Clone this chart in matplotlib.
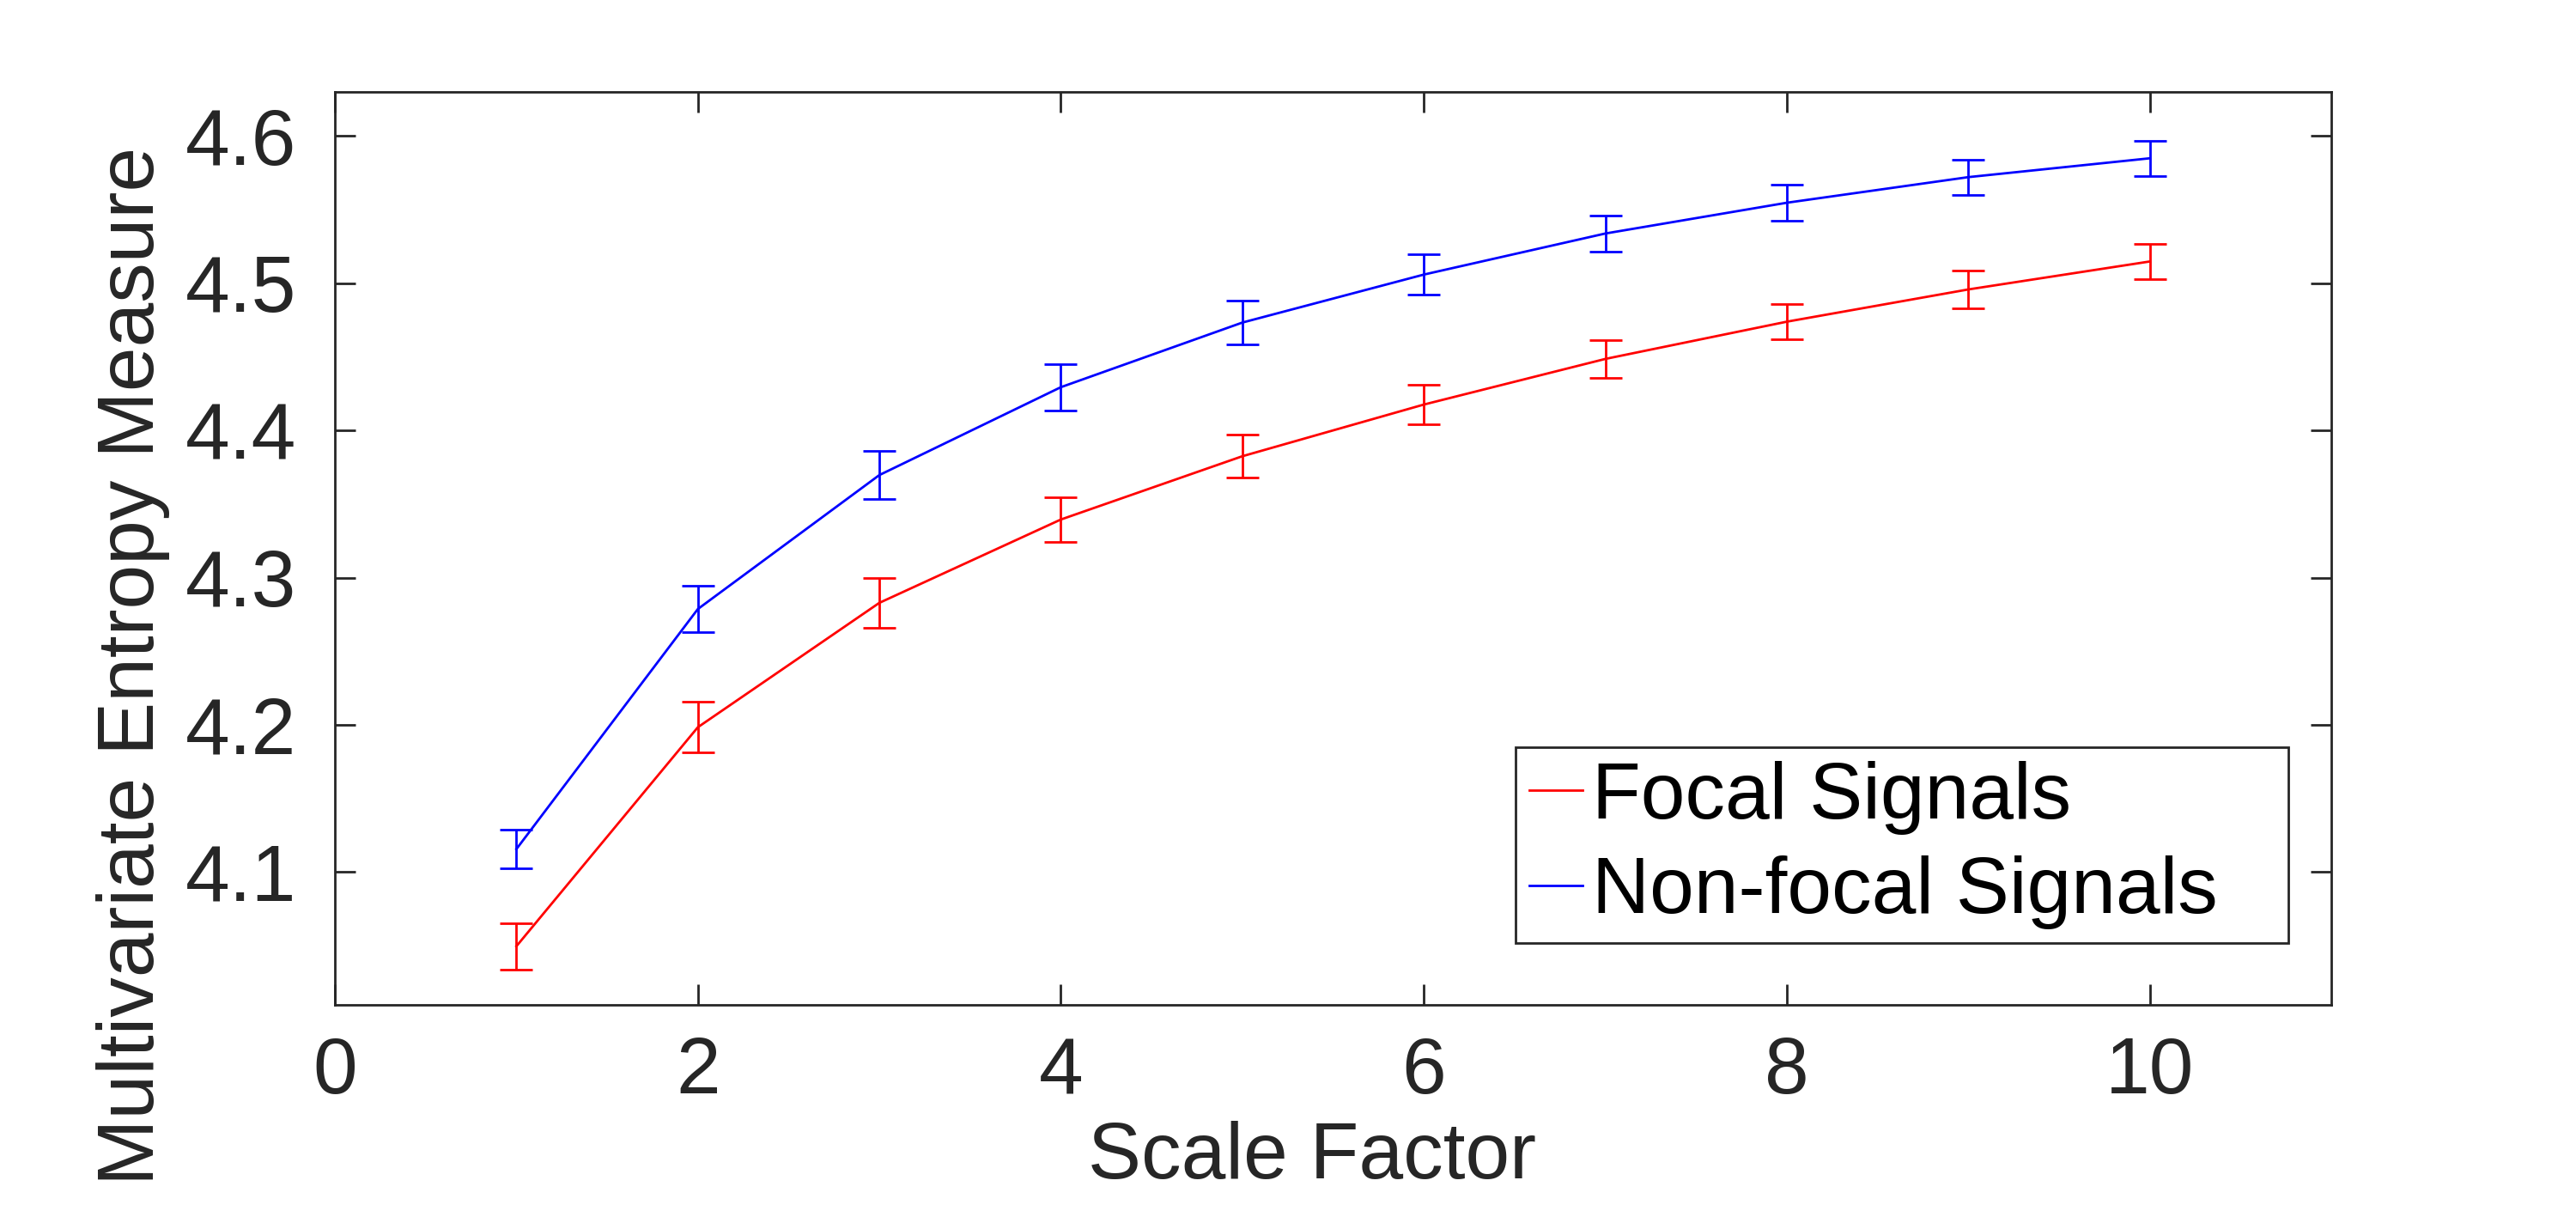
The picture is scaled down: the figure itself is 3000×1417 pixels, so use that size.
import matplotlib
matplotlib.use("Agg")
import matplotlib.pyplot as plt
from matplotlib.lines import Line2D

scale_factor = [1, 2, 3, 4, 5, 6, 7, 8, 9, 10]
focal_mean = [4.0496, 4.1984, 4.2829, 4.3395, 4.3825, 4.4176, 4.4486, 4.4739, 4.4958, 4.5148]
focal_err = [0.0158, 0.0172, 0.0168, 0.0153, 0.0146, 0.0136, 0.0128, 0.0122, 0.0128, 0.0119]
nonfocal_mean = [4.1156, 4.2787, 4.3697, 4.4294, 4.4733, 4.5059, 4.5338, 4.5547, 4.5721, 4.5849]
nonfocal_err = [0.0130, 0.0156, 0.0162, 0.0157, 0.0149, 0.0136, 0.0124, 0.0121, 0.0119, 0.0119]
series_labels = ['Focal Signals', 'Non-focal Signals']
x_ticks = [0, 2, 4, 6, 8, 10]
y_ticks = [4.1, 4.2, 4.3, 4.4, 4.5, 4.6]

plt.rcParams['font.family'] = ['Liberation Sans', 'DejaVu Sans']
FS = 33.5
TXT = (0.15, 0.15, 0.15)
RED = '#ff0000'
BLUE = '#0000ff'

fig = plt.figure(figsize=(15, 7.085), dpi=200)
ax = fig.add_axes([0.13, 1 - 1170 / 1417, 0.775, (1170 - 107) / 1417])

ax.errorbar(scale_factor, focal_mean, yerr=focal_err, color=RED, lw=1.0,
            elinewidth=1.0, capsize=7, capthick=1.0)
ax.errorbar(scale_factor, nonfocal_mean, yerr=nonfocal_err, color=BLUE, lw=1.0,
            elinewidth=1.0, capsize=7, capthick=1.0)

ax.set_xlim(0, 11)
ax.set_ylim(4.0098, 4.630)
ax.set_xticks(x_ticks)
ax.set_yticks(y_ticks)
ax.set_xticklabels([str(t) for t in x_ticks])
ax.set_yticklabels([f"{t:.1f}" for t in y_ticks])

for s in ax.spines.values():
    s.set_color(TXT)
    s.set_linewidth(1.0)

ax.tick_params(axis='both', which='major', direction='in', length=8.5, width=1.0,
               color=TXT, labelcolor=TXT, labelsize=FS, top=True, right=True)
ax.tick_params(axis='x', pad=13)
ax.tick_params(axis='y', pad=16)

ax.set_xlabel('Scale Factor', fontsize=FS, color=TXT)
ax.xaxis.set_label_coords(0.4894, -0.127)
ax.set_ylabel('Multivariate Entropy Measure', fontsize=FS, color=TXT)
ax.yaxis.set_label_coords(-0.0826, 0.3716)

handles = [Line2D([], [], color=RED, lw=1.0), Line2D([], [], color=BLUE, lw=1.0)]
leg = ax.legend(handles, series_labels, loc='lower left',
                bbox_to_anchor=(0.5914, 0.0677, 0.3871, 0.218), mode='expand',
                fontsize=FS, frameon=True, fancybox=False, framealpha=1,
                edgecolor=TXT, handlelength=0.67, handletextpad=0.12,
                borderpad=0.17, labelspacing=0.26, borderaxespad=0)
leg.get_frame().set_linewidth(1.0)
for t in leg.get_texts():
    t.set_color('black')

fig.savefig('out.png', dpi=200, facecolor='white')
